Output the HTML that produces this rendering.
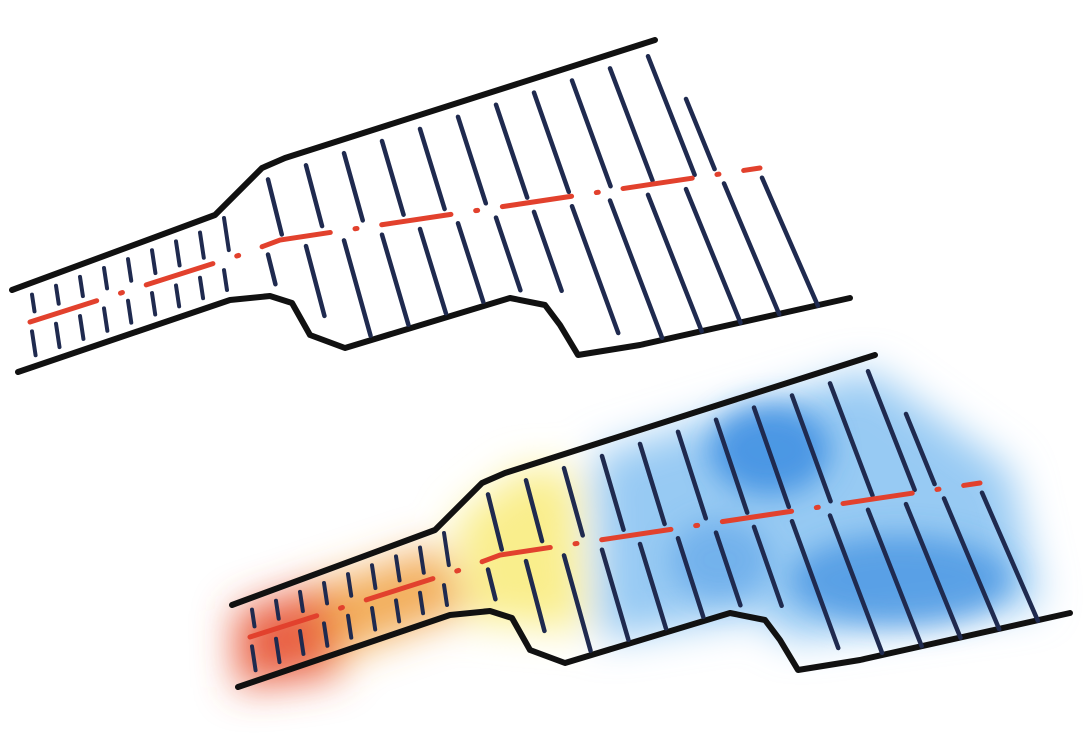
<!DOCTYPE html>
<html><head><meta charset="utf-8"><style>
html,body{margin:0;padding:0;background:#fff;}
svg{display:block;}
</style></head><body>
<svg id="s" width="1087" height="734" viewBox="0 0 1087 734">
<defs>
<filter id="blur" x="-30%" y="-30%" width="160%" height="160%"><feGaussianBlur stdDeviation="20"/></filter>
<filter id="blur2" x="-30%" y="-30%" width="160%" height="160%"><feGaussianBlur stdDeviation="14"/></filter>
</defs>
<g>
<g filter="url(#blur)">
<polygon points="235,612 335,580 340,675 238,688" fill="#e85a3a" opacity="0.95"/>
<polygon points="320,585 440,545 470,610 330,660" fill="#f0a040" opacity="0.85"/>
<polygon points="455,520 520,470 575,470 585,630 470,620" fill="#f8ec80" opacity="0.9"/>
<polygon points="595,455 870,370 1010,470 1040,605 790,640 760,615 600,640" fill="#8cc4f2" opacity="0.9"/>
</g>
<g filter="url(#blur2)">
<ellipse cx="770" cy="450" rx="60" ry="45" fill="#3a8be0" opacity="0.8"/>
<ellipse cx="900" cy="580" rx="110" ry="45" fill="#3f8fe0" opacity="0.7"/>
<ellipse cx="720" cy="560" rx="50" ry="40" fill="#5aa2e8" opacity="0.6"/>
</g>
</g>
<g id="top"></g>
<g id="bot" transform="translate(220,315)"></g>
</svg>
<script>
const topPts=[[12,290],[215,215],[240,190],[262,168],[285,158],[655,40]];
const botPts=[[18,372],[230,300],[270,296],[292,303],[310,335],[345,348],[510,298],[545,305],[560,325],[578,355],[640,345],[850,298]];
const midPts=[[30,322],[240,255],[280,240],[760,168]];
const NS='http://www.w3.org/2000/svg';
function interp(p,x){if(x<=p[0][0])return p[0][1];for(let i=1;i<p.length;i++){if(x<=p[i][0]){const t=(x-p[i-1][0])/(p[i][0]-p[i-1][0]);return p[i-1][1]+t*(p[i][1]-p[i-1][1]);}}const a=p[p.length-2],b=p[p.length-1];return b[1]+(x-b[0])*(b[1]-a[1])/(b[0]-a[0]);}
function path(p){return 'M'+p.map(q=>q.join(',')).join(' L');}
function build(g){
 const a=document.createElementNS(NS,'path');a.setAttribute('d',path(topPts));a.setAttribute('fill','none');a.setAttribute('stroke','#111');a.setAttribute('stroke-width','6');a.setAttribute('stroke-linecap','round');a.setAttribute('stroke-linejoin','round');
 
 g.appendChild(a);
 const b=document.createElementNS(NS,'path');b.setAttribute('d',path(botPts));b.setAttribute('fill','none');b.setAttribute('stroke','#111');b.setAttribute('stroke-width','6');b.setAttribute('stroke-linecap','round');b.setAttribute('stroke-linejoin','round');
 
 g.appendChild(b);
 const xs=[];for(let x=32;x<235;x+=24)xs.push(x);for(let x=268;x<800;x+=38)xs.push(x);
 xs.forEach(x=>{
  const narrow=x<240;
  const lean=narrow?0.15:0.25+0.2*(x-268)/530;
  const yt=(x<660?interp(topPts,x):40+(x-655)*1.45)+(narrow?12:14),yb=interp(botPts,x)-12,ym=interp(midPts,x);
  [[yt,ym-10],[ym+10,yb]].forEach(([y1,y2])=>{if(y2-y1<(narrow?6:14))return;
   const l=document.createElementNS(NS,'line');
   l.setAttribute('x1',x);l.setAttribute('y1',y1);l.setAttribute('x2',x+lean*(y2-y1));l.setAttribute('y2',y2);
   l.setAttribute('stroke','#1f2a4f');l.setAttribute('stroke-width',narrow?4:4.5);l.setAttribute('stroke-linecap','round');
   
   g.appendChild(l);});
 });
 const m=document.createElementNS(NS,'path');m.setAttribute('d',path(midPts));m.setAttribute('fill','none');m.setAttribute('stroke','#e2412d');m.setAttribute('stroke-width','5');m.setAttribute('stroke-linecap','round');m.setAttribute('stroke-dasharray','70 25 2 25');
 
 g.appendChild(m);
}
build(document.getElementById('top'));build(document.getElementById('bot'));
</script>
</body></html>
